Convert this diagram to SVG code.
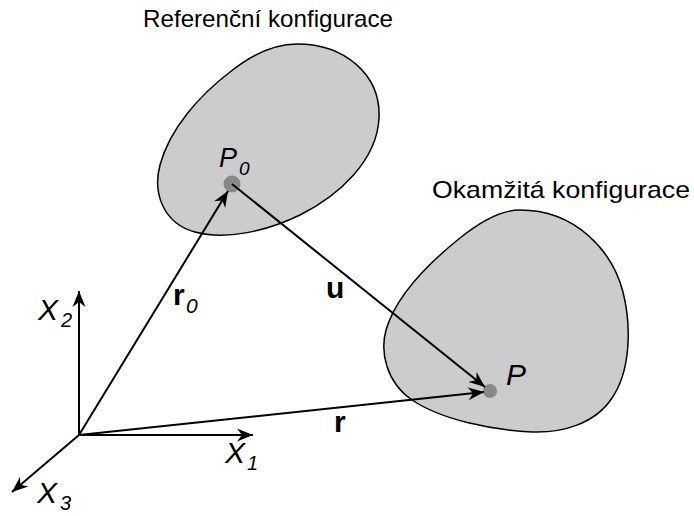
<svg xmlns="http://www.w3.org/2000/svg" width="694" height="516" viewBox="0 0 694 516">
  <defs>
    <marker id="arr" markerUnits="userSpaceOnUse" markerWidth="20" markerHeight="16" viewBox="-18 -8 20 16" refX="0" refY="0" orient="auto">
      <path d="M0,0 L-16,-6.5 L-11,0 L-16,6.5 Z" fill="#000"/>
    </marker>
  </defs>
  <style>
    .blob { fill: #cccccc; stroke: #000; stroke-width: 1.5; }
    .dot { fill: #888888; }
    .vec { stroke: #000; stroke-width: 2; fill: none; marker-end: url(#arr); }
    .title { font-family: "Liberation Sans", Arial, sans-serif; font-size: 24px; fill: #000; }
    .it { font-family: "Liberation Sans", Arial, sans-serif; font-style: italic; fill: #000; }
    .bd { font-family: "Liberation Sans", Arial, sans-serif; font-weight: bold; fill: #000; }
  </style>
  <rect width="694" height="516" fill="#fff"/>
  <g id="reference">
    <path class="blob" d="M 297,44 C 345,44 381,75 379,118 C 377,160 340,195 300,215 C 265,232 225,240 195,232 C 165,224 152,195 160,165 C 170,128 200,95 230,72 C 250,56 272,44 297,44 Z"/>
    <text class="title" x="143" y="27" textLength="250" lengthAdjust="spacingAndGlyphs">Referenční konfigurace</text>
  </g>
  <g id="current">
    <path class="blob" d="M 520,210 C 575,210 612,250 623,292 C 632,328 630,372 612,398 C 595,424 562,433 532,432 C 492,430 442,420 412,400 C 386,382 380,352 386,330 C 396,296 430,262 460,238 C 480,222 500,210 520,210 Z"/>
    <text class="title" x="432" y="198" textLength="258" lengthAdjust="spacingAndGlyphs">Okamžitá konfigurace</text>
  </g>
  <g id="P0">
    <circle class="dot" cx="232" cy="184" r="8.5"/>
    <text class="it" x="219" y="167" font-size="27">P</text>
    <text class="it" x="239" y="175" font-size="19">0</text>
  </g>
  <g id="P">
    <circle class="dot" cx="490" cy="391" r="7"/>
    <text class="it" x="506" y="385" font-size="30">P</text>
  </g>
  <g id="axes">
    <line class="vec" x1="79" y1="435" x2="79" y2="291"/>
    <line class="vec" x1="79" y1="435" x2="253" y2="435"/>
    <line class="vec" x1="79" y1="435" x2="12" y2="492"/>
    <text class="it" x="38" y="320" font-size="30">X</text>
    <text class="it" x="61" y="327" font-size="20">2</text>
    <text class="it" x="225" y="463" font-size="30">X</text>
    <text class="it" x="247" y="470" font-size="20">1</text>
    <text class="it" x="37" y="503" font-size="30">X</text>
    <text class="it" x="60" y="510" font-size="20">3</text>
  </g>
  <g id="connectors">
    <line class="vec" x1="79" y1="435" x2="228" y2="191"/>
    <line class="vec" x1="232" y1="184" x2="485" y2="387"/>
    <line class="vec" x1="79" y1="435" x2="484" y2="392"/>
  </g>
  <g id="labels">
    <text class="bd" x="173" y="305" font-size="30">r</text>
    <text class="it" x="186" y="313" font-size="21">0</text>
    <text class="bd" x="326" y="298" font-size="30">u</text>
    <text class="bd" x="334" y="432" font-size="30">r</text>
  </g>
</svg>
